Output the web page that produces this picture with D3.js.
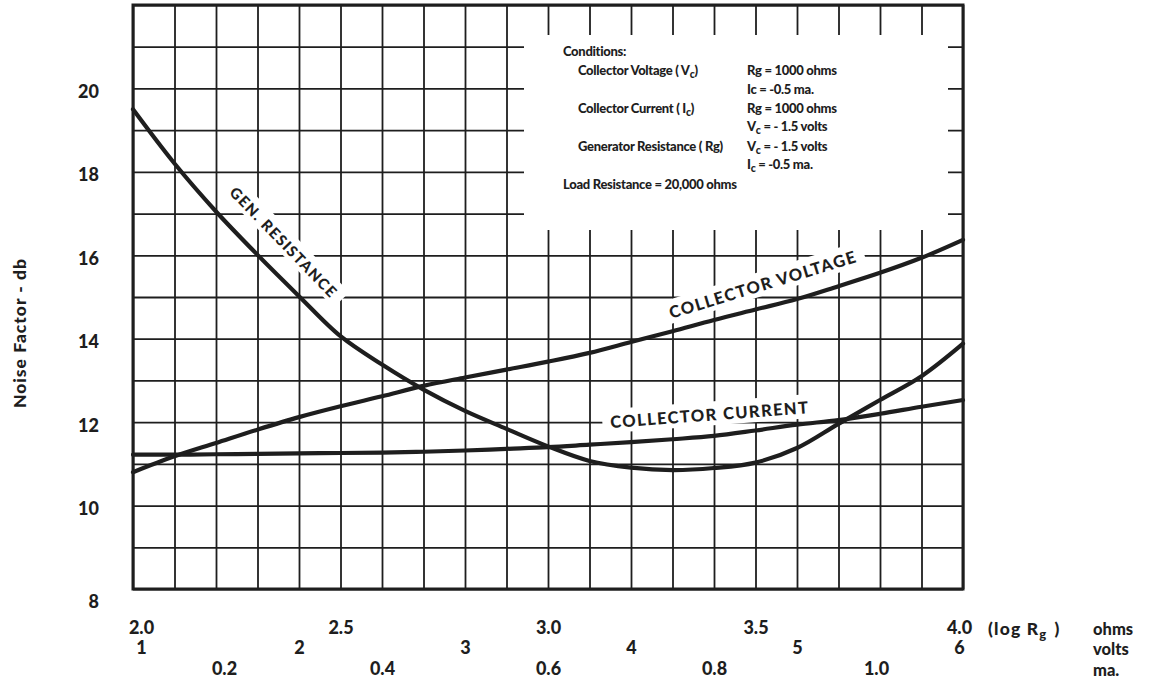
<!DOCTYPE html>
<html>
<head>
<meta charset="utf-8">
<script src="https://cdn.jsdelivr.net/npm/d3@7"></script>
<style>
  html, body { margin: 0; padding: 0; background: #fff; }
  svg { display: block; }
  text { font-family: Lato, "Open Sans", sans-serif; font-weight: 900; fill: #1e1e1e; }
</style>
</head>
<body>
<svg id="chart" width="1152" height="683"></svg>
<script>
// ---- data ----
const logRg = [2.0, 2.1, 2.2, 2.3, 2.4, 2.5, 2.6, 2.7, 2.8, 2.9, 3.0, 3.1, 3.2, 3.3, 3.4, 3.5, 3.6, 3.7, 3.8, 3.9, 4.0];
const collectorVoltage = [10.8, 11.18, 11.5, 11.82, 12.12, 12.38, 12.62, 12.87, 13.07, 13.26, 13.45, 13.66, 13.92, 14.18, 14.45, 14.7, 14.95, 15.26, 15.58, 15.94, 16.37];
const collectorCurrent = [11.22, 11.22, 11.23, 11.24, 11.25, 11.26, 11.27, 11.29, 11.32, 11.36, 11.4, 11.46, 11.52, 11.59, 11.67, 11.8, 11.94, 12.05, 12.2, 12.37, 12.53];
const genResistance = [19.5, 18.2, 17.05, 16.01, 15.02, 14.06, 13.38, 12.78, 12.27, 11.84, 11.42, 11.07, 10.91, 10.85, 10.9, 11.03, 11.38, 11.96, 12.53, 13.1, 13.88];

const yTicks = [8, 10, 12, 14, 16, 18, 20];
const logTicks = [2.0, 2.5, 3.0, 3.5, 4.0];
const voltTicks = [1, 2, 3, 4, 5, 6];
const maTicks = [0.2, 0.4, 0.6, 0.8, 1.0];

const curveLabels = [
  { text: "GEN. RESISTANCE", x: 2.363, y: 16.31, angle: 46 },
  { text: "COLLECTOR VOLTAGE", x: 3.518, y: 15.3, angle: -17 },
  { text: "COLLECTOR CURRENT", x: 3.39, y: 12.18, angle: -4.3 }
];

const conditionsLeft = ["Conditions:", "Collector Voltage ( V|c|)", "", "Collector Current ( I|c|)", "", "Generator Resistance ( Rg)", "", "Load Resistance = 20,000 ohms"];
const conditionsRight = ["", "Rg = 1000 ohms", "Ic = -0.5 ma.", "Rg = 1000 ohms", "V|c| = - 1.5 volts", "V|c| = - 1.5 volts", "I|c| = -0.5 ma.", ""];

// ---- layout ----
const svg = d3.select("#chart");
const L = 133, R = 963, T = 5, B = 589;
const x = d3.scaleLinear().domain([2.0, 4.0]).range([L, R]);
const xV = d3.scaleLinear().domain([1, 6]).range([L, R]);
const xMa = d3.scaleLinear().domain([0.1, 1.1]).range([L, R]);
const y = d3.scaleLinear().domain([8, 22]).range([B, T]);
const ink = "#1e1e1e";

// grid
const gridX = d3.range(21).map(i => 2 + i * 0.1);
const gridY = d3.range(15).map(i => 8 + i);
const g = svg.append("g");
g.append("g").attr("transform", `translate(0,${B})`)
  .call(d3.axisBottom(x).tickValues(gridX).tickSize(-(B - T)).tickFormat(""))
  .call(s => s.select(".domain").remove())
  .selectAll("line").attr("stroke", ink).attr("stroke-width", 1.8);
g.append("g").attr("transform", `translate(${L},0)`)
  .call(d3.axisLeft(y).tickValues(gridY).tickSize(-(R - L)).tickFormat(""))
  .call(s => s.select(".domain").remove())
  .selectAll("line").attr("stroke", ink).attr("stroke-width", 1.8);

// conditions box (white panel over the grid)
svg.append("rect").attr("x", 524).attr("y", 35).attr("width", 948 - 524).attr("height", 230 - 35).attr("fill", "#fff");

// label backgrounds (below curves) and labels (above)
const bgG = svg.append("g");
const curveG = svg.append("g");
const lblG = svg.append("g");
lblG.selectAll("text").data(curveLabels).join("text")
  .attr("transform", d => `translate(${x(d.x)},${y(d.y)}) rotate(${d.angle})`)
  .attr("text-anchor", "middle").attr("dy", "0.36em")
  .attr("font-size", d => d.angle > 0 ? 15 : 16.5).attr("letter-spacing", 1.4)
  .text(d => d.text)
  .each(function (d) {
    const bb = this.getBBox();
    bgG.append("rect")
      .attr("transform", `translate(${x(d.x)},${y(d.y)}) rotate(${d.angle})`)
      .attr("x", bb.x - 8).attr("y", bb.y - 3).attr("width", bb.width + 16).attr("height", bb.height + 4)
      .attr("fill", "#fff");
  });

// curves
const line = d3.line().x((d, i) => x(logRg[i])).y(d => y(d)).curve(d3.curveCatmullRom.alpha(0.5));
[collectorVoltage, collectorCurrent, genResistance].forEach(s => {
  curveG.append("path").datum(s).attr("d", line).attr("fill", "none")
    .attr("stroke", ink).attr("stroke-width", 4.2).attr("stroke-linecap", "round");
});

// frame
svg.append("rect").attr("x", L).attr("y", T).attr("width", R - L).attr("height", B - T)
  .attr("fill", "none").attr("stroke", ink).attr("stroke-width", 3);

// y axis labels
const yAx = svg.append("g").attr("transform", `translate(${L},0)`)
  .call(d3.axisLeft(y).tickValues(yTicks).tickSize(0).tickPadding(34).tickFormat(d3.format("d")));
yAx.select(".domain").remove();
yAx.selectAll("text").attr("font-size", 18).attr("font-family", "Lato").attr("font-weight", 900).attr("fill", ink)
  .attr("dy", d => d === 8 ? "1.05em" : "0.5em");

svg.append("text").attr("transform", "translate(26,333) rotate(-90)")
  .attr("text-anchor", "middle").attr("font-size", 17.5).attr("letter-spacing", 1)
  .text("Noise Factor - db");

// x axis rows
function xRow(scale, ticks, fmt, pad) {
  const a = svg.append("g").attr("transform", `translate(0,${B})`)
    .call(d3.axisBottom(scale).tickValues(ticks).tickSize(0).tickPadding(pad).tickFormat(fmt));
  a.select(".domain").remove();
  a.selectAll("text").attr("font-size", 18).attr("font-family", "Lato").attr("font-weight", 900).attr("fill", ink)
    .attr("dx", (d, i) => i === 0 ? 8 : (i === ticks.length - 1 ? -4 : 0));
}
xRow(x, logTicks, d3.format(".1f"), 32);
xRow(xV, voltTicks, d3.format("d"), 52);
xRow(xMa, maTicks, d3.format(".1f"), 73);

const unit = svg.append("g");
const lg = unit.append("text").attr("x", 988).attr("y", 635).attr("font-size", 17.5).attr("letter-spacing", 1.2);
lg.append("tspan").text("(log R");
lg.append("tspan").attr("font-size", 13).attr("dy", 4).text("g");
lg.append("tspan").attr("dy", -4).attr("dx", 7).text(")");
["ohms", "volts", "ma."].forEach((t, i) => {
  unit.append("text").attr("x", 1093).attr("y", [635, 655, 676][i]).attr("font-size", 16.5).text(t);
});

// conditions text
function richText(sel, str) {
  const parts = str.split("|");
  parts.forEach((p, i) => {
    if (!p) return;
    const ts = sel.append("tspan").text(p);
    if (i % 2 === 1) ts.attr("font-size", 10.5).attr("dy", 3);
    else if (i > 0) ts.attr("dy", -3);
  });
}
const rowY = [56, 75, 94, 113, 131, 151, 169, 189];
conditionsLeft.forEach((s, i) => {
  if (!s) return;
  const t = svg.append("text").attr("x", (i === 0 || i === 7) ? 563 : 578).attr("y", rowY[i])
    .attr("font-size", 13).attr("letter-spacing", -0.3);
  richText(t, s);
});
conditionsRight.forEach((s, i) => {
  if (!s) return;
  const t = svg.append("text").attr("x", 747).attr("y", rowY[i])
    .attr("font-size", 13).attr("letter-spacing", -0.3);
  richText(t, s);
});
</script>
</body>
</html>
